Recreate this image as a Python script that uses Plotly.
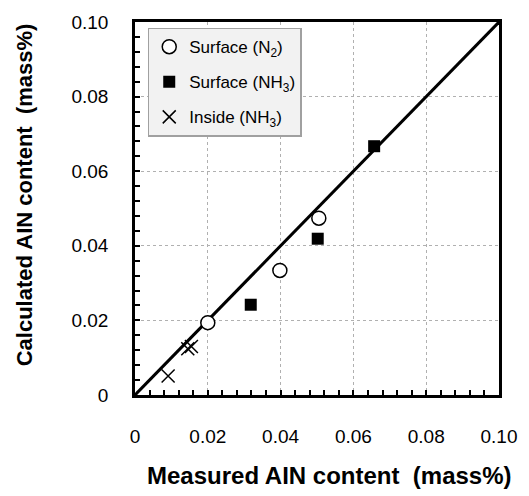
import plotly.graph_objects as go

# ---- data ----
surf_n2_x = [0.0200, 0.0398, 0.0505]
surf_n2_y = [0.0194, 0.0334, 0.0474]
surf_nh3_x = [0.0318, 0.0502, 0.0657]
surf_nh3_y = [0.0242, 0.0419, 0.0667]
inside_x = [0.0091, 0.0145, 0.0155]
inside_y = [0.0051, 0.0124, 0.0130]
line_x = [0.0, 0.10]
line_y = [0.0, 0.10]
tick_vals = [0, 0.02, 0.04, 0.06, 0.08, 0.10]
tick_text = ["0", "0.02", "0.04", "0.06", "0.08", "0.10"]

FONT = "Liberation Sans, Arial, sans-serif"

fig = go.Figure()
fig.add_trace(go.Scatter(x=line_x, y=line_y, mode="lines",
                         line=dict(color="black", width=3), showlegend=False,
                         hoverinfo="skip"))
fig.add_trace(go.Scatter(x=surf_n2_x, y=surf_n2_y, mode="markers",
                         name="Surface (N<sub>2</sub>)", legendgroup="a",
                         marker=dict(symbol="circle", size=14, color="white",
                                     line=dict(color="black", width=1.5))))
fig.add_trace(go.Scatter(x=surf_nh3_x, y=surf_nh3_y, mode="markers",
                         name="Surface (NH<sub>3</sub>)", legendgroup="b",
                         marker=dict(symbol="square", size=12, color="black",
                                     line=dict(color="black", width=0))))
fig.add_trace(go.Scatter(x=inside_x, y=inside_y, mode="markers",
                         name="Inside (NH<sub>3</sub>)", legendgroup="c",
                         marker=dict(symbol="x-thin", size=13, color="black",
                                     line=dict(color="black", width=1.5))))

axis_common = dict(
    range=[0, 0.10], tickvals=tick_vals, ticktext=tick_text,
    showline=True, linecolor="black", linewidth=2.5, mirror=True,
    ticks="inside", ticklen=5, tickwidth=1.5, tickcolor="black",
    showgrid=True, gridcolor="#b0b0b0", griddash="dot", gridwidth=1,
    zeroline=False,
    tickfont=dict(family=FONT, size=19, color="black"),
    minor=dict(dtick=0.004, tick0=0, ticks="inside", ticklen=5,
               tickwidth=1.5, tickcolor="black", showgrid=False),
)
fig.update_xaxes(**axis_common, ticklabelstandoff=22)
fig.update_yaxes(**axis_common, ticklabelstandoff=20)

fig.add_annotation(text="<b>Measured AIN content\u00a0\u00a0(mass%)</b>",
                   xref="paper", yref="paper", x=0.535, y=-0.215,
                   xanchor="center", yanchor="middle", showarrow=False,
                   font=dict(family=FONT, size=24, color="black"))
fig.add_annotation(text="<b>Calculated AIN content\u00a0\u00a0(mass%)</b>",
                   xref="paper", yref="paper", x=-0.305, y=0.538,
                   xanchor="center", yanchor="middle", showarrow=False,
                   textangle=-90,
                   font=dict(family=FONT, size=22, color="black"))

fig.update_layout(
    width=529, height=496,
    margin=dict(l=135, r=28, t=16, b=101),
    paper_bgcolor="white", plot_bgcolor="white",
    showlegend=True,
    legend=dict(x=0.035, y=0.985, xanchor="left", yanchor="top",
                bgcolor="#f2f2f2", bordercolor="#a0a0a0", borderwidth=1.5,
                font=dict(family=FONT, size=17, color="black"),
                tracegroupgap=10, itemwidth=30),
)

fig.write_html("out.html")
